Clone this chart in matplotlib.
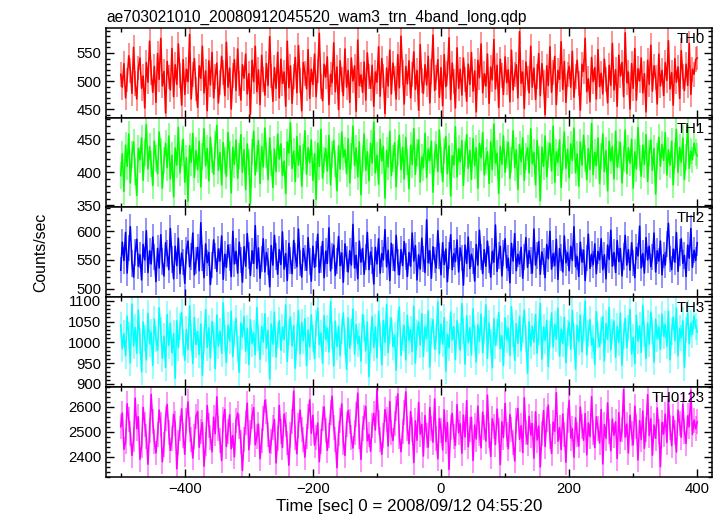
import numpy as np
import matplotlib
matplotlib.use("Agg")
import matplotlib.pyplot as plt
from matplotlib.ticker import MultipleLocator

plt.rcParams['font.family'] = ['Liberation Sans', 'DejaVu Sans']

title = "ae703021010_20080912045520_wam3_trn_4band_long.qdp"
xlabel = "Time [sec] 0 = 2008/09/12 04:55:20"
ylabel = "Counts/sec"
band_names = ["TH0", "TH1", "TH2", "TH3", "TH0123"]
band_colors = ["#ff0000", "#00ff00", "#0000ff", "#00ffff", "#ff00ff"]
t_start, t_stop = -500, 400

th0 = [512, 489, 531, 470, 502, 545, 519, 478, 560, 495, 468, 523, 541, 487, 509, 452, 533, 498, 571, 515,
       480, 526, 462, 549, 503, 576, 491, 517, 443, 535, 507, 484, 558, 472, 529, 494, 566, 510, 457, 538,
       476, 521, 499, 583, 468, 512, 540, 486, 453, 527, 505, 562, 479, 518, 447, 536, 493, 551, 470, 508,
       532, 461, 497, 544, 515, 474, 569, 489, 523, 450, 510, 538, 483, 557, 496, 466, 529, 505, 548, 477,
       513, 441, 537, 499, 562, 481, 520, 458, 546, 503, 475, 531, 492, 579, 509, 464, 524, 487, 551, 470,
       539, 496, 516, 455, 571, 488, 527, 460, 508, 542, 479, 563, 501, 447, 533, 514, 486, 556, 469, 521,
       494, 548, 472, 518, 585, 490, 465, 530, 507, 543, 458, 512, 497, 568, 481, 525, 449, 536, 503, 474,
       557, 489, 519, 462, 541, 500, 527, 446, 573, 492, 511, 480, 534, 466, 550, 508, 487, 528, 455, 516,
       498, 561, 473, 540, 509, 442, 523, 491, 555, 477, 532, 504, 468, 547, 488, 580, 515, 459, 526, 495,
       536, 470, 511, 552, 485, 519, 448, 565, 501, 478, 529, 493, 544, 461, 517, 582, 483, 506, 538, 471,
       524, 456, 547, 490, 513, 577, 467, 532, 499, 452, 559, 487, 521, 475, 541, 503, 464, 530, 494, 551,
       482, 518, 445, 537, 506, 566, 479, 513, 491, 548, 460, 525, 502, 574, 486, 528, 453, 539, 510, 476,
       543, 497, 520, 463, 555, 484, 511, 529, 470, 588, 496, 516, 451, 534, 505, 479, 562, 489, 523, 467,
       508, 549, 474, 531, 498, 440, 527, 492, 561, 480, 515, 544, 458, 519, 503, 570, 485, 535, 462, 512,
       526, 489, 553, 471, 508, 537, 496, 448, 530, 517, 576, 481, 504, 463, 542, 499, 524, 468, 556, 490,
       514, 477, 539, 503, 461, 528, 492, 567, 484, 520, 455, 546, 509, 533, 472, 586, 497, 516, 450, 531,
       487, 558, 466, 522, 500, 541, 479, 513, 445, 537, 494, 564, 482, 527, 506, 459, 548, 491, 519, 474,
       533, 501, 572, 486, 515, 457, 540, 498, 525, 469, 554, 508, 483, 530, 492, 567, 476, 521, 512, 538,
       541]

th1 = [395, 428, 371, 441, 409, 458, 384, 427, 446, 401, 365, 436, 419, 452, 388, 430, 472, 405, 439, 413,
       380, 447, 421, 398, 461, 432, 376, 418, 444, 407, 455, 390, 426, 363, 437, 411, 468, 399, 429, 450,
       385, 422, 356, 440, 415, 459, 392, 433, 404, 447, 378, 424, 466, 410, 436, 387, 453, 419, 397, 442,
       471, 403, 430, 381, 445, 418, 394, 460, 427, 369, 438, 412, 449, 391, 425, 457, 400, 434, 374, 443,
       416, 353, 431, 462, 396, 421, 448, 383, 439, 408, 467, 426, 389, 452, 414, 377, 435, 401, 458, 420,
       443, 395, 417, 368, 446, 429, 475, 406, 432, 386, 454, 411, 440, 379, 423, 463, 397, 437, 415, 449,
       388, 428, 359, 444, 409, 465, 391, 419, 436, 402, 456, 381, 427, 448, 413, 372, 440, 405, 461, 423,
       434, 398, 451, 384, 425, 470, 410, 437, 393, 446, 366, 420, 458, 403, 431, 387, 444, 414, 476, 399,
       426, 382, 450, 417, 439, 361, 433, 408, 462, 395, 421, 445, 378, 429, 456, 404, 438, 390, 453, 416,
       375, 441, 412, 466, 397, 430, 449, 385, 423, 407, 459, 392, 435, 418, 447, 370, 427, 442, 401, 464,
       419, 386, 432, 454, 398, 440, 364, 425, 411, 469, 393, 436, 416, 448, 380, 428, 457, 406, 433, 389,
       451, 410, 437, 376, 444, 422, 460, 396, 418, 431, 383, 446, 404, 473, 414, 429, 368, 439, 412, 455,
       400, 427, 445, 391, 419, 463, 407, 434, 374, 442, 416, 452, 388, 424, 437, 399, 466, 413, 430, 381,
       448, 420, 357, 438, 409, 455, 393, 426, 444, 402, 470, 385, 431, 415, 449, 377, 423, 461, 406, 435,
       392, 443, 418, 467, 399, 428, 379, 446, 411, 456, 421, 389, 436, 404, 474, 397, 430, 410, 452, 383,
       425, 458, 401, 433, 372, 447, 417, 439, 390, 462, 408, 427, 445, 384, 420, 464, 398, 437, 414, 450,
       376, 431, 405, 468, 422, 394, 441, 412, 457, 386, 429, 449, 403, 436, 367, 424, 453, 409, 442, 418,
       460, 396, 434, 411, 447, 381, 426, 465, 400, 438, 415, 452, 389, 423, 471, 406, 432, 419, 444, 430,
       425]

th2 = [532, 581, 549, 598, 527, 571, 608, 544, 520, 563, 586, 539, 559, 515, 577, 550, 601, 528, 566, 543,
       590, 555, 512, 570, 536, 594, 547, 522, 580, 561, 533, 605, 551, 517, 574, 540, 588, 526, 562, 546,
       509, 567, 583, 538, 556, 597, 524, 549, 572, 531, 615, 553, 519, 578, 545, 563, 507, 541, 585, 557,
       530, 569, 548, 592, 516, 560, 537, 576, 554, 521, 600, 543, 565, 527, 581, 550, 511, 573, 539, 596,
       558, 523, 566, 544, 610, 535, 571, 518, 552, 587, 529, 563, 547, 503, 575, 541, 593, 556, 525, 568,
       542, 599, 534, 561, 514, 579, 549, 526, 584, 557, 538, 604, 545, 520, 570, 553, 532, 589, 547, 513,
       574, 537, 560, 595, 528, 551, 582, 519, 565, 544, 606, 531, 557, 576, 523, 548, 591, 540, 562, 511,
       578, 552, 529, 566, 541, 612, 536, 558, 517, 583, 546, 570, 525, 555, 598, 533, 564, 549, 508, 572,
       543, 587, 527, 561, 550, 603, 538, 567, 514, 579, 554, 531, 593, 546, 524, 568, 540, 582, 556, 521,
       563, 539, 597, 548, 575, 515, 559, 534, 588, 552, 528, 620, 545, 566, 518, 573, 550, 536, 601, 557,
       524, 580, 542, 569, 512, 558, 594, 533, 561, 547, 585, 529, 571, 553, 506, 576, 544, 590, 535, 560,
       548, 513, 577, 541, 602, 555, 526, 568, 539, 583, 551, 520, 565, 546, 611, 530, 558, 574, 522, 562,
       587, 536, 553, 510, 579, 548, 596, 531, 560, 543, 572, 518, 555, 589, 537, 566, 549, 527, 604, 541,
       558, 582, 525, 564, 547, 519, 577, 552, 600, 534, 561, 540, 586, 516, 570, 554, 529, 592, 545, 563,
       531, 574, 549, 608, 538, 556, 521, 581, 546, 567, 514, 553, 595, 535, 560, 542, 578, 526, 565, 550,
       587, 533, 559, 517, 576, 551, 602, 539, 563, 528, 584, 547, 570, 522, 556, 593, 541, 568, 532, 580,
       545, 519, 572, 557, 609, 536, 561, 527, 589, 550, 574, 538, 555, 597, 529, 566, 548, 583, 524, 559,
       541, 578, 614, 552, 533, 569, 546, 598, 530, 563, 587, 544, 558, 521, 576, 553, 605, 537, 567, 549,
       580]

th3 = [1042, 985, 1021, 968, 1063, 1017, 951, 1092, 992, 1036, 974, 1078, 1003, 929, 1049, 1011, 958, 1070, 997, 1024,
       945, 1056, 1008, 981, 1083, 1030, 962, 1015, 940, 1067, 993, 1046, 975, 1021, 914, 1052, 987, 1039, 1072, 1000,
       957, 1031, 983, 1088, 1012, 949, 1060, 995, 1026, 971, 1044, 921, 1006, 1079, 988, 1035, 963, 1050, 1018, 937,
       1066, 991, 1027, 974, 1095, 1009, 952, 1041, 1003, 1075, 966, 1020, 1058, 984, 928, 1047, 1013, 1062, 979, 1033,
       947, 1055, 998, 1023, 970, 1084, 1011, 959, 1038, 1001, 1069, 986, 1029, 912, 1044, 996, 1073, 965, 1018, 1052,
       981, 1036, 1007, 1090, 954, 1025, 1061, 992, 1040, 938, 1012, 1077, 973, 1048, 1004, 1057, 944, 1030, 989, 1066,
       1010, 961, 1045, 1082, 995, 1022, 950, 1064, 1008, 1034, 977, 1098, 1016, 943, 1051, 990, 1039, 968, 1027, 1071,
       1002, 935, 1059, 986, 1024, 1080, 972, 1043, 997, 1014, 955, 1067, 1033, 980, 1049, 918, 1006, 1062, 988, 1037,
       963, 1075, 1020, 946, 1053, 1000, 1091, 976, 1029, 1058, 990, 1017, 933, 1046, 1085, 969, 1012, 1040, 958, 1065,
       1005, 1031, 978, 1087, 950, 1022, 1048, 994, 1069, 966, 1037, 1009, 1076, 941, 1026, 1055, 984, 1013, 1097, 973,
       1044, 996, 1060, 931, 1019, 987, 1073, 1006, 1038, 959, 1052, 1015, 981, 1093, 1027, 948, 1064, 999, 1035, 970,
       1081, 1011, 953, 1042, 1003, 1068, 975, 1028, 1090, 962, 1047, 1000, 939, 1057, 993, 1024, 1072, 985, 1016, 944,
       1059, 1007, 1034, 969, 1086, 1021, 957, 1045, 998, 1063, 980, 1030, 1078, 1010, 926, 1050, 991, 1039, 1001, 1067,
       974, 1026, 1094, 960, 1037, 1005, 1053, 942, 1019, 1071, 989, 1044, 1008, 1082, 967, 1032, 998, 1060, 951, 1023,
       1048, 984, 1077, 1013, 936, 1041, 1002, 1066, 977, 1035, 1099, 970, 1021, 1055, 993, 1010, 947, 1074, 1018, 990,
       1029, 1062, 956, 1045, 1007, 1084, 982, 1025, 1051, 964, 1038, 1000, 1070, 945, 1016, 1058, 987, 1033, 1079, 972,
       1012, 949, 1065, 1003, 1040, 976, 1089, 1020, 961, 1047, 996, 1073, 1028, 953, 1056, 1009, 1037, 983, 1068, 1015,
       1043, 991, 1075, 958, 1026, 1061, 1004, 1083, 968, 1034, 1011, 1052, 940, 1030, 1071, 997, 1046, 1019, 1064, 1039,
       1025]

th0123 = [2520, 2575, 2430, 2460, 2612, 2548, 2495, 2405, 2470, 2635, 2512, 2560, 2390, 2445, 2598, 2530, 2480, 2370, 2505, 2650,
          2541, 2462, 2415, 2490, 2587, 2528, 2380, 2450, 2555, 2610, 2498, 2425, 2473, 2570, 2533, 2352, 2458, 2515, 2592, 2487,
          2410, 2545, 2620, 2509, 2468, 2395, 2482, 2563, 2581, 2438, 2500, 2537, 2362, 2451, 2605, 2525, 2476, 2420, 2558, 2492,
          2640, 2512, 2465, 2385, 2550, 2590, 2441, 2503, 2568, 2432, 2485, 2400, 2545, 2575, 2522, 2459, 2345, 2470, 2538, 2615,
          2428, 2496, 2562, 2597, 2448, 2480, 2531, 2392, 2467, 2555, 2626, 2583, 2490, 2418, 2462, 2518, 2549, 2375, 2473, 2606,
          2501, 2437, 2571, 2530, 2455, 2366, 2488, 2542, 2663, 2477, 2412, 2524, 2587, 2510, 2469, 2398, 2483, 2560, 2628, 2494,
          2566, 2446, 2478, 2535, 2380, 2461, 2552, 2599, 2505, 2426, 2487, 2578, 2643, 2519, 2470, 2356, 2493, 2547, 2612, 2458,
          2405, 2531, 2585, 2540, 2476, 2435, 2499, 2568, 2655, 2482, 2389, 2515, 2559, 2602, 2464, 2490, 2422, 2526, 2574, 2507,
          2668, 2536, 2471, 2410, 2485, 2589, 2548, 2443, 2621, 2498, 2465, 2534, 2595, 2652, 2480, 2420, 2503, 2576, 2660, 2513,
          2452, 2581, 2509, 2377, 2544, 2466, 2618, 2491, 2529, 2403, 2565, 2486, 2439, 2597, 2514, 2458, 2632, 2475, 2392, 2553,
          2506, 2427, 2588, 2461, 2537, 2349, 2519, 2574, 2483, 2446, 2609, 2496, 2532, 2414, 2567, 2479, 2625, 2440, 2511, 2558,
          2385, 2527, 2471, 2603, 2495, 2436, 2579, 2518, 2463, 2647, 2484, 2401, 2552, 2523, 2449, 2591, 2505, 2368, 2540, 2477,
          2614, 2489, 2432, 2569, 2508, 2456, 2383, 2546, 2594, 2470, 2525, 2417, 2636, 2498, 2451, 2562, 2487, 2533, 2394, 2580,
          2467, 2523, 2359, 2494, 2585, 2441, 2550, 2607, 2480, 2413, 2539, 2502, 2657, 2462, 2517, 2429, 2571, 2490, 2378, 2544,
          2626, 2475, 2512, 2398, 2556, 2488, 2443, 2599, 2521, 2466, 2573, 2408, 2535, 2481, 2641, 2497, 2437, 2560, 2514, 2455,
          2589, 2371, 2529, 2474, 2616, 2500, 2424, 2551, 2486, 2540, 2393, 2577, 2463, 2508, 2670, 2479, 2531, 2415, 2566, 2492,
          2448, 2603, 2520, 2387, 2545, 2469, 2583, 2434, 2511, 2649, 2485, 2552, 2406, 2527, 2474, 2596, 2502, 2360, 2538, 2491,
          2571, 2457, 2630, 2516, 2444, 2562, 2496, 2419, 2587, 2534, 2478, 2611, 2503, 2453, 2564, 2521, 2665, 2489, 2547, 2512,
          2540]

band_errors = [22, 20, 23, 32, 50]
band_ylims = [(435, 595), (347, 483), (485, 642), (893, 1109), (2320, 2680)]
band_major = [50, 50, 50, 50, 100]
band_minor = [10, 10, 10, 10, 20]
series = [th0, th1, th2, th3, th0123]

FS = 10.7
fig = plt.figure(figsize=(7.23, 5.16), dpi=100)
left, right = 106 / 723, 712 / 723
top, bottom = 1 - 27.7 / 516, 1 - 476.7 / 516
h = (top - bottom) / 5

axes = []
for i, (name, col, vals, err, yl, mj, mn) in enumerate(
        zip(band_names, band_colors, series, band_errors, band_ylims, band_major, band_minor)):
    ax = fig.add_axes([left, top - (i + 1) * h, right - left, h])
    axes.append(ax)
    v = np.asarray(vals, dtype=float)
    t = np.linspace(t_start, t_stop, len(v))
    ax.vlines(t, v - err, v + err, color=col, alpha=0.5, lw=1.2)
    ax.plot(t, v, color=col, lw=1.15)
    ax.set_xlim(-523, 423)
    ax.set_ylim(*yl)
    ax.yaxis.set_major_locator(MultipleLocator(mj))
    ax.yaxis.set_minor_locator(MultipleLocator(mn))
    ax.xaxis.set_major_locator(MultipleLocator(200))
    ax.xaxis.set_minor_locator(MultipleLocator(100))
    ax.tick_params(which='both', direction='in', top=True, right=True, labelsize=FS)
    ax.tick_params(which='major', length=6, width=1)
    ax.tick_params(which='minor', length=3, width=1)
    for s in ax.spines.values():
        s.set_linewidth(1.1)
    if i < 4:
        ax.tick_params(labelbottom=False)
    ax.text(0.988, 0.955, name, transform=ax.transAxes, ha='right', va='top', fontsize=FS)

axes[0].set_title(title, loc='left', fontsize=11.2, pad=4)
fig.text(409 / 723, 1 - 507 / 516, xlabel, ha='center', va='center', fontsize=12.2)
fig.text(41 / 723, 0.5 * (top + bottom), ylabel, ha='center', va='center', rotation=90, fontsize=11.4)

fig.savefig("out.png", dpi=100)
